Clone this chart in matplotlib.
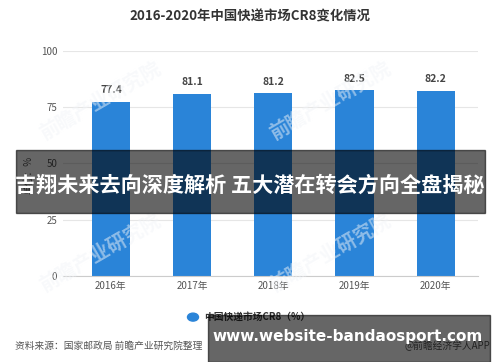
import matplotlib
matplotlib.use("Agg")
import matplotlib.pyplot as plt
from matplotlib.patches import Rectangle

plt.rcParams["font.family"] = ["Noto Sans CJK SC", "DejaVu Sans"]

years = ["2016年", "2017年", "2018年", "2019年", "2020年"]
cr8 = [77.4, 81.1, 81.2, 82.5, 82.2]
yticks = [0, 25, 50, 75, 100]

BLUE = "#2a84d8"
GRID = "#e6e6e6"
TXT = "#555555"

fig = plt.figure(figsize=(5, 3.62), dpi=100)
ax = fig.add_axes([0.126, 0.238, 0.83, 0.621])

x = list(range(len(years)))
ax.bar(x, cr8, width=0.47, color=BLUE, zorder=2)
for xi, v in zip(x, cr8):
    ax.text(xi, v + 3, f"{v}", ha="center", va="bottom", fontsize=7.5,
            weight="bold", color="#444444")

ax.set_xlim(-0.59, 4.52)
ax.set_ylim(0, 100)
ax.set_yticks(yticks)
ax.set_xticks(x)
ax.set_xticklabels(years)
ax.grid(axis="y", color=GRID, lw=0.8, zorder=0)
ax.tick_params(axis="both", length=0, labelsize=7, colors=TXT, pad=4)
for s in ["top", "right", "left"]:
    ax.spines[s].set_visible(False)
ax.spines["bottom"].set_color("#cccccc")
ax.set_ylabel("单位：%", fontsize=7, color=TXT)
ax.yaxis.set_label_coords(-0.07, 0.45)

fig.text(0.5, 0.953, "2016-2020年中国快递市场CR8变化情况", ha="center", va="center",
         fontsize=9.6, weight="bold", color="#333333")

# legend
fig.patches.append(plt.Circle((0.386, 0.124), 0.011, transform=fig.transFigure,
                              color=BLUE, figure=fig))
fig.text(0.408, 0.124, "中国快递市场CR8（%）", ha="left", va="center",
         fontsize=7, weight="bold", color="#333333")

fig.text(0.03, 0.044, "资料来源：国家邮政局 前瞻产业研究院整理", ha="left", va="center",
         fontsize=7, color=TXT)
fig.text(0.98, 0.044, "@前瞻经济学人APP", ha="right", va="center",
         fontsize=7, color=TXT)

# watermarks
for wx, wy in [(0.2, 0.72), (0.66, 0.72), (0.2, 0.3), (0.66, 0.3)]:
    fig.text(wx, wy, "前瞻产业研究院", fontsize=14, color="#f1f4f8", alpha=0.5,
             rotation=30, ha="center", va="center", weight="bold")

# overlay banners
fig.patches.append(Rectangle((0.032, 1 - 213 / 362), 0.938, 63 / 362,
                             transform=fig.transFigure, color="black", alpha=0.6,
                             zorder=5, figure=fig))
fig.text(0.5, 1 - 185 / 362, "吉翔未来去向深度解析 五大潜在转会方向全盘揭秘",
         ha="center", va="center", fontsize=15.2, weight="bold", color="white",
         zorder=6)

fig.patches.append(Rectangle((0.416, 0), 0.564, 47 / 362,
                             transform=fig.transFigure, color="black", alpha=0.6,
                             zorder=5, figure=fig))
fig.text(0.696, 1 - 337 / 362, "www.website-bandaosport.com", ha="center",
         va="center", fontsize=11, weight="bold", color="white", zorder=6,
         family="DejaVu Sans")

fig.savefig("out.png", dpi=100)
